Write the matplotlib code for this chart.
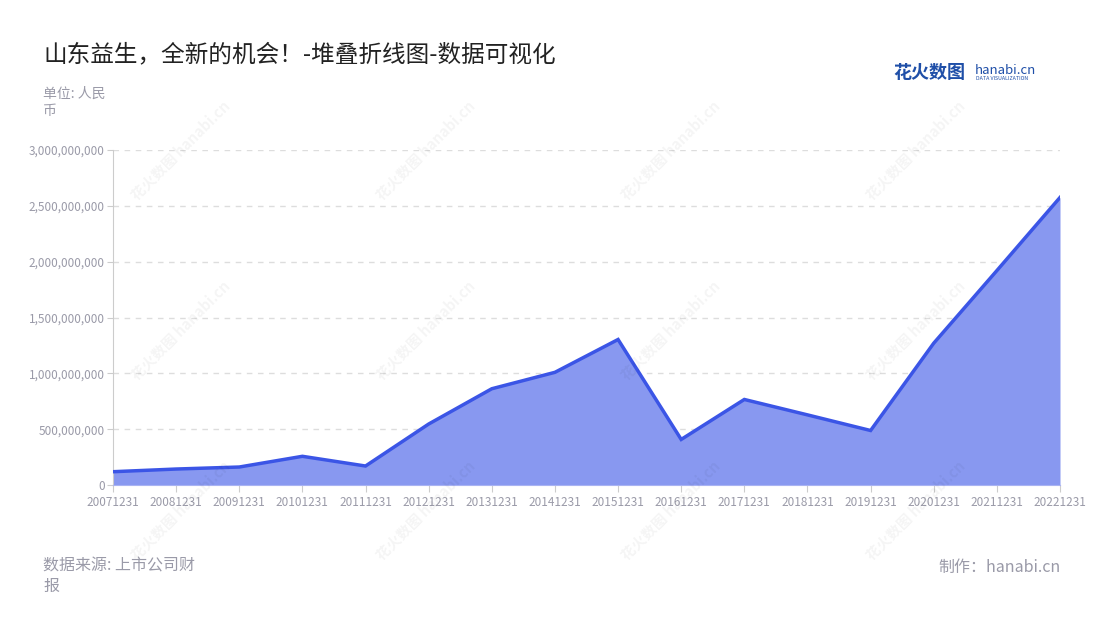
import matplotlib
matplotlib.use("Agg")
import matplotlib.pyplot as plt
from matplotlib.ticker import FuncFormatter

plt.rcParams['font.family'] = ['Noto Sans CJK SC', 'DejaVu Sans']

# data
dates = ['20071231', '20081231', '20091231', '20101231', '20111231', '20121231',
         '20131231', '20141231', '20151231', '20161231', '20171231', '20181231',
         '20191231', '20201231', '20211231', '20221231']
values = [119e6, 143e6, 161e6, 257e6, 170e6, 546e6, 862e6, 1009e6, 1303e6,
          408e6, 766e6, 628e6, 488e6, 1270e6, 1920e6, 2575e6]
yticks = [0, 500e6, 1000e6, 1500e6, 2000e6, 2500e6, 3000e6]

title = '山东益生，全新的机会！-堆叠折线图-数据可视化'
unit = '单位: 人民\n币'
source = '数据来源: 上市公司财\n报'
maker = '制作：hanabi.cn'

line_c = '#3b55e6'
fill_c = '#8898f0'
grey = '#9a9aa8'

fig = plt.figure(figsize=(11, 6.2), dpi=100)
ax = fig.add_axes([113/1100, 1-485/620, (1060-113)/1100, (485-150)/620])

x = list(range(len(dates)))
ax.fill_between(x, values, 0, color=fill_c, lw=0, zorder=2)
ax.plot(x, values, color=line_c, lw=2.5, zorder=3, solid_joinstyle='miter')

ax.set_xlim(0, len(dates) - 1)
ax.set_ylim(0, 3000e6)
ax.set_xticks(x)
ax.set_xticklabels(dates)
ax.set_yticks(yticks)
ax.yaxis.set_major_formatter(FuncFormatter(lambda v, p: f'{int(v):,}'))
ax.grid(axis='y', color='#dddddd', ls=(0, (4, 4)), lw=1, zorder=1)
ax.set_axisbelow(True)

for s in ['top', 'right']:
    ax.spines[s].set_visible(False)
ax.spines['left'].set_color('#cccccc')
ax.spines['bottom'].set_color('#a9b3f2')
ax.tick_params(axis='x', colors='#cccccc', labelcolor=grey, labelsize=8.5, length=5, pad=3)
ax.tick_params(axis='y', colors='#cccccc', labelcolor=grey, labelsize=8.5, length=4, pad=2)

# watermarks
for wy in [150, 330, 510]:
    for wx in [180, 425, 670, 915]:
        fig.text(wx/1100, 1-wy/620, '花火数图 hanabi.cn', rotation=45, fontsize=10.5,
                 color='#000000', alpha=0.045, ha='center', va='center', fontweight='bold')

fig.text(43/1100, 1-55/620, title, fontsize=17, color='#222222', va='center')
fig.text(43/1100, 1-87/620, unit, fontsize=10, color=grey, va='top', linespacing=1.3)
fig.text(43/1100, 1-557/620, source, fontsize=11.5, color=grey, va='top', linespacing=1.3)
fig.text(1061/1100, 1-567/620, maker, fontsize=11.5, color=grey, va='center', ha='right')

# logo
fig.text(893/1100, 1-72/620, '花火数图', fontsize=13, color='#1f4fa8', va='center', fontweight='bold')
fig.text(975/1100, 1-70/620, 'hanabi.cn', fontsize=9.5, color='#1f4fa8', va='center')
fig.text(976/1100, 1-79/620, 'DATA VISUALIZATION', fontsize=3.8, color='#1f4fa8', va='center')

fig.savefig('out.png', dpi=100)
